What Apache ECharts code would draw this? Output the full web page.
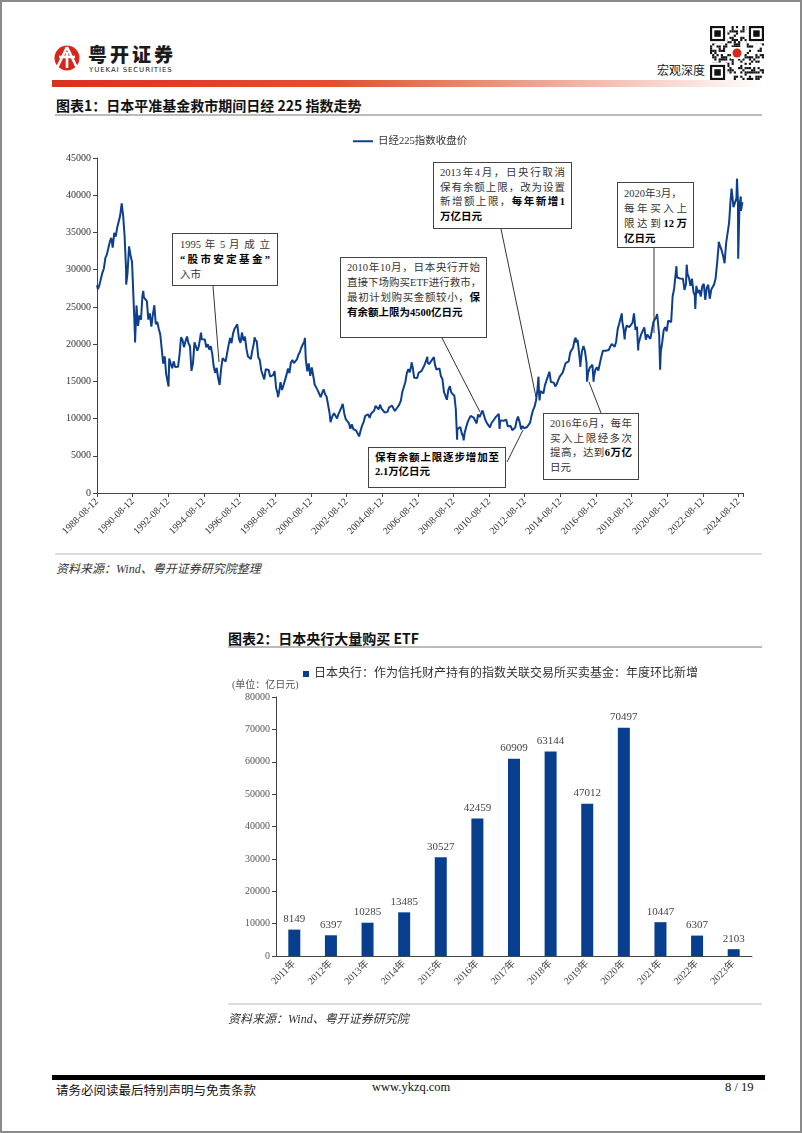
<!DOCTYPE html>
<html>
<head>
<meta charset="utf-8">
<script src="https://cdn.jsdelivr.net/npm/echarts@6/dist/echarts.min.js"></script>
<style>
  html,body{margin:0;padding:0;background:#fff;}
  body{width:802px;height:1133px;position:relative;overflow:hidden;font-family:'Liberation Serif','Noto Sans CJK SC',serif;color:#222;}
  .frame{position:absolute;left:0;top:0;width:798px;height:1129px;border:2px solid #8a8a8a;}
  .abs{position:absolute;white-space:nowrap;}
  .ann{position:absolute;border:1px solid #444;background:#fff;box-sizing:border-box;font-size:10.5px;line-height:15px;color:#333;font-family:'Liberation Serif','Noto Sans CJK SC',serif;}
  .ann div{white-space:nowrap;}
  .ann .j{text-align:justify;text-align-last:justify;}
  .ann b{color:#000;}
  .title{position:absolute;font-family:'Noto Sans CJK SC',sans-serif;font-weight:bold;font-size:14px;color:#111;white-space:nowrap;}
  .src{position:absolute;font-style:italic;font-size:12px;color:#333;white-space:nowrap;font-family:'Liberation Serif','Noto Sans CJK SC',serif;}
</style>
</head>
<body>
<div class="frame"></div>

<!-- header -->
<svg class="abs" style="left:52px;top:44px" width="34" height="28" viewBox="0 0 34 28">
  <circle cx="15" cy="14" r="12.5" fill="#d7261b"/>
  <path d="M15 3 L5 24 M15 3 L25 24 M7 13 L23 13 M15 8 L15 24" stroke="#fff" stroke-width="2.6" fill="none"/>
</svg>
<div class="abs" style="left:88px;top:43px;font-family:'Noto Sans CJK SC';font-weight:900;font-size:19px;letter-spacing:3px;color:#1a1a1a;line-height:22px">粤开证券</div>
<div class="abs" style="left:89px;top:66px;font-family:'DejaVu Sans';font-size:7px;letter-spacing:0.9px;color:#222;line-height:8px">YUEKAI SECURITIES</div>
<div class="abs" style="left:52px;top:80px;width:712px;height:7px;background:linear-gradient(to right,#d9321c 0%,#e4502e 40%,#f2b7a8 75%,#ffffff 100%)"></div>
<div class="abs" style="left:657px;top:62px;font-family:'Noto Sans CJK SC';font-size:12px;color:#222;line-height:16px">宏观深度</div>
<canvas id="qr" class="abs" style="left:710px;top:26px" width="54" height="54"></canvas>

<!-- chart 1 -->
<div class="title" style="left:56px;top:95px">图表1：日本平准基金救市期间日经 225 指数走势</div>
<div class="abs" style="left:55px;top:114px;width:707px;height:2px;background:#bbb"></div>
<div id="c1" class="abs" style="left:0;top:125px;width:802px;height:430px"></div>
<div class="abs" style="left:55px;top:553px;width:707px;height:2px;background:#ddd"></div>
<div class="src" style="left:56px;top:559px">资料来源：Wind、粤开证券研究院整理</div>

<!-- annotations -->
<div class="ann" style="left:172px;top:233px;width:106px;height:53px;padding:3px 7px">
  <div class="j">1995 年 5 月 成 立</div>
  <div class="j"><b>“股市安定基金”</b></div>
  <div>入市</div>
</div>
<div class="ann" style="left:340px;top:257px;width:147px;height:81px;padding:2px 6px">
  <div class="j">2010年10月，日本央行开始</div>
  <div class="j">直接下场购买ETF进行救市，</div>
  <div class="j">最初计划购买金额较小，<b>保</b></div>
  <div><b>有余额上限为4500亿日元</b></div>
</div>
<div class="ann" style="left:433px;top:162px;width:139px;height:67px;padding:3px 6px;line-height:14.5px">
  <div class="j">2013年4月，日央行取消</div>
  <div class="j">保有余额上限，改为设置</div>
  <div class="j">新增额上限，<b>每年新增1</b></div>
  <div><b>万亿日元</b></div>
</div>
<div class="ann" style="left:617px;top:182px;width:77px;height:66px;padding:3px 6px">
  <div>2020年3月，</div>
  <div class="j">每年买入上</div>
  <div class="j">限达到<b>12万</b></div>
  <div><b>亿日元</b></div>
</div>
<div class="ann" style="left:543px;top:413px;width:96px;height:67px;padding:3px 6px;line-height:14.5px">
  <div class="j">2016年6月，每年</div>
  <div class="j">买入上限经多次</div>
  <div class="j">提高，达到<b>6万亿</b></div>
  <div>日元</div>
</div>
<div class="ann" style="left:368px;top:447px;width:138px;height:41px;padding:3px 6px;line-height:14px">
  <div class="j"><b>保有余额上限逐步增加至</b></div>
  <div><b>2.1万亿日元</b></div>
</div>
<svg class="abs" style="left:0;top:0;pointer-events:none" width="802" height="600">
  <g stroke="#333" stroke-width="1">
    <line x1="213" y1="286" x2="219" y2="362"/>
    <line x1="442" y1="338" x2="480" y2="412"/>
    <line x1="501" y1="229" x2="536" y2="397"/>
    <line x1="654" y1="248" x2="654" y2="333"/>
    <line x1="601" y1="413" x2="589" y2="382"/>
    <line x1="507" y1="462" x2="523" y2="430"/>
  </g>
</svg>

<!-- chart 2 -->
<div class="title" style="left:228px;top:628px">图表2：日本央行大量购买 ETF</div>
<div class="abs" style="left:228px;top:646px;width:534px;height:2px;background:#bbb"></div>
<div id="c2" class="abs" style="left:0;top:650px;width:802px;height:355px"></div>
<div class="abs" style="left:232px;top:676px;font-size:10px;color:#555;font-family:'Liberation Serif','Noto Sans CJK SC'">(单位：亿日元)</div>
<div class="abs" style="left:228px;top:1003px;width:534px;height:2px;background:#ddd"></div>
<div class="src" style="left:228px;top:1009px">资料来源：Wind、粤开证券研究院</div>

<!-- footer -->
<div class="abs" style="left:52px;top:1075px;width:713px;height:5px;background:#000"></div>
<div class="abs" style="left:56px;top:1080px;font-size:12.5px;color:#111;font-family:'Liberation Serif','Noto Sans CJK SC'">请务必阅读最后特别声明与免责条款</div>
<div class="abs" style="left:372px;top:1080px;font-size:12.5px;color:#111;font-family:'Liberation Serif'">www.ykzq.com</div>
<div class="abs" style="left:725px;top:1080px;font-size:12.5px;color:#111;font-family:'Liberation Serif'">8 / 19</div>

<script>
// ===== Chart 1 data: Nikkei 225 (monthly closes, from 1988-08) =====
var nikkeiStart = [1988, 8];
var nikkeiMonthly = [
  27366, 27924, 27880, 29579, 30159,
  31581, 31985, 32839, 33713, 34266, 32948, 34954, 34431, 35636, 35549, 37269, 38916,
  37189, 34591, 29980, 29584, 33131, 31940, 31036, 25978, 20984, 25194, 22455, 23849,
  23293, 26409, 26292, 26111, 25790, 23291, 24121, 22336, 23916, 25222, 22687, 22984,
  22023, 21339, 19346, 17390, 18348, 15952, 15910, 18061, 17399, 16767, 17684, 16925,
  17024, 16953, 18591, 20919, 20552, 19590, 20380, 21027, 20106, 19703, 16408, 17417,
  20229, 19997, 19112, 19725, 20974, 20644, 20448, 20629, 19564, 19990, 19263, 19723,
  18650, 17053, 16140, 16807, 15437, 14518, 16678, 18117, 17913, 17655, 18744, 19868,
  20813, 20125, 21407, 22041, 21956, 22531, 20693, 20167, 21556, 20467, 21020, 19361,
  18330, 18557, 18003, 19151, 20069, 20605, 20331, 18229, 17888, 16459, 16636, 15259,
  16628, 16831, 16527, 15641, 15671, 15830, 16379, 14108, 13406, 13565, 14884, 13842,
  14499, 14368, 15837, 16702, 16112, 17530, 17862, 17437, 17605, 17942, 18558, 18934,
  19540, 19960, 20337, 17974, 16332, 17411, 15727, 16861, 15747, 14540, 14649, 13786,
  13844, 12884, 12999, 13934, 13262, 12969, 11861, 10714, 9775, 10366, 10697, 10543,
  9998, 10588, 11025, 11493, 11764, 10622, 9877, 9619, 9383, 8640, 9216, 8579,
  8340, 8363, 7973, 7831, 8425, 9083, 9563, 10344, 10219, 10560, 10101, 10677,
  10784, 11042, 11715, 11762, 11236, 11859, 11326, 11082, 10824, 10771, 10899, 11489,
  11388, 11741, 11669, 11009, 11277, 11584, 11900, 12414, 13574, 13607, 14872, 16111,
  16650, 16205, 17060, 16906, 15467, 15505, 15457, 16141, 16128, 16399, 16274, 17226,
  17383, 17604, 17288, 17400, 17876, 18138, 17249, 16569, 16786, 16738, 15681, 15308,
  13592, 13604, 12526, 13850, 14339, 13481, 13377, 13073, 11260, 8577, 8512, 8860,
  7994, 7568, 8110, 8828, 9523, 9958, 10357, 10493, 10133, 10035, 9346, 10546,
  10198, 10126, 11090, 11057, 9769, 9383, 9537, 8824, 9369, 9202, 9937, 10229,
  10237, 10624, 9755, 9850, 9694, 9816, 9833, 8955, 8700, 8988, 8435, 8455,
  8803, 9723, 10084, 9521, 8543, 9007, 8695, 8840, 8870, 8928, 9446, 10395,
  11139, 11559, 12398, 13861, 13775, 13677, 13668, 13389, 14456, 14328, 15662, 16291,
  14915, 14841, 14828, 14304, 14632, 15162, 15621, 15425, 16174, 16414, 17460, 17451,
  17674, 18798, 19207, 19520, 20563, 20236, 20585, 18890, 17388, 19083, 19747, 19034,
  17518, 16027, 16759, 16666, 17235, 15576, 16569, 16887, 16450, 17425, 18308, 19114,
  19041, 19119, 18909, 19197, 19651, 20033, 19925, 19646, 20356, 22012, 22725, 22765,
  23098, 22068, 21454, 22468, 22202, 22305, 22554, 22865, 24120, 21920, 22351, 20015,
  20773, 21385, 21206, 22259, 20601, 21276, 21522, 20704, 21756, 22927, 23294, 23657,
  23205, 21143, 18917, 20194, 21878, 22288, 21710, 23140, 23185, 22977, 26434, 27444,
  27663, 28966, 29179, 28813, 28860, 28792, 27284, 28090, 29453, 28893, 27822, 28792,
  27002, 26527, 27821, 26848, 27280, 26393, 27802, 28092, 25937, 27587, 27969, 26095,
  27327, 27446, 28041, 28856, 30888, 33189, 33172, 32619, 31858, 30859, 33487, 33464,
  36287, 39166, 40369, 38406, 38488, 39583, 39102, 38648, 37920, 39081
];
// intra-month highs / lows
var nikkeiExtraDates = [
  '1988-08-12','1990-04-02','1990-10-01','1991-03-18','1992-08-18','1993-09-03','1994-06-13',
  '1995-07-03','1996-06-26','1997-06-16','1998-10-09','2000-04-12','2001-09-20','2002-05-27',
  '2003-04-28','2006-04-07','2007-02-26','2007-07-09','2008-10-27','2009-03-10','2010-04-05',
  '2011-03-15','2012-03-27','2012-06-04','2013-05-22','2013-06-13','2015-06-24','2015-09-29',
  '2016-02-12','2016-06-24','2018-01-23','2018-03-23','2018-10-02','2018-12-25','2020-01-17',
  '2020-03-19','2021-02-16','2021-09-14','2022-03-09','2023-07-03','2024-03-22','2024-07-11',
  '2024-08-05','2024-09-27'
];
var nikkeiExtraValues = [
  27900, 28002, 20222, 27146, 14309, 21148, 21552,
  14485, 22666, 20910, 12879, 20833, 9504, 11979,
  7607, 17563, 18300, 18261, 7162, 7054, 11339,
  8605, 10255, 8295, 15627, 12445, 20868, 16930,
  14952, 14952, 24124, 20617, 24270, 19155, 24041,
  16552, 30467, 30670, 24717, 33753, 40888, 42224,
  31458, 39830
];
var xTickLabels = ['1988-08-12','1990-08-12','1992-08-12','1994-08-12','1996-08-12','1998-08-12',
  '2000-08-12','2002-08-12','2004-08-12','2006-08-12','2008-08-12','2010-08-12','2012-08-12',
  '2014-08-12','2016-08-12','2018-08-12','2020-08-12','2022-08-12','2024-08-12'];
var yTicks1 = [0, 5000, 10000, 15000, 20000, 25000, 30000, 35000, 40000, 45000];
var legend1 = '日经225指数收盘价';

// ===== Chart 2 data =====
var etfYears = ['2011年','2012年','2013年','2014年','2015年','2016年','2017年','2018年','2019年','2020年','2021年','2022年','2023年'];
var etfValues = [8149, 6397, 10285, 13485, 30527, 42459, 60909, 63144, 47012, 70497, 10447, 6307, 2103];
var legend2 = '日本央行：作为信托财产持有的指数关联交易所买卖基金：年度环比新增';

// ---- build ----
var T0 = Date.UTC(1988, 7, 12);
var YEAR = 365.25 * 86400000;
function off(ms){ return (ms - T0) / YEAR; }
var pts = [];
for (var i = 0; i < nikkeiMonthly.length; i++) {
  var m = nikkeiStart[1] - 1 + i;
  var y = nikkeiStart[0] + Math.floor(m / 12);
  var mm = m % 12;
  pts.push([off(Date.UTC(y, mm + 1, 0)), nikkeiMonthly[i]]);
}
for (var k = 0; k < nikkeiExtraDates.length; k++) {
  var p = nikkeiExtraDates[k].split('-');
  pts.push([off(Date.UTC(+p[0], +p[1] - 1, +p[2])), nikkeiExtraValues[k]]);
}
pts.sort(function(a, b){ return a[0] - b[0]; });

var SERIF = "'Liberation Serif', 'Noto Sans CJK SC', serif";
var LINE_BLUE = '#0d3f8e';
function plain(v){ return String(v); }

var c1 = echarts.init(document.getElementById('c1'));
c1.setOption({
  animation: false,
  legend: {
    data: [legend1], left: 348, top: 6, itemWidth: 20, itemHeight: 8,
    icon: 'path://M0,3 L20,3 L20,5 L0,5 Z',
    textStyle: { fontSize: 10.5, color: '#333', fontFamily: SERIF }
  },
  grid: { left: 97, top: 33, width: 646, height: 335 },
  xAxis: {
    type: 'value', min: 0, max: 36.25, interval: 2,
    axisLine: { lineStyle: { color: '#444', width: 1 } },
    axisTick: { length: 4, lineStyle: { color: '#444' } },
    splitLine: { show: false },
    axisLabel: {
      rotate: 45, fontSize: 10, color: '#333', fontFamily: SERIF, margin: 7,
      formatter: function(v){ var r = v / 2; return Math.abs(r - Math.round(r)) < 1e-6 ? (xTickLabels[Math.round(r)] || '') : ''; }
    }
  },
  yAxis: {
    type: 'value', min: yTicks1[0], max: yTicks1[yTicks1.length - 1], interval: 5000,
    axisLine: { show: true, lineStyle: { color: '#444', width: 1 } },
    axisTick: { show: true, length: 4, lineStyle: { color: '#444' } },
    splitLine: { show: false },
    axisLabel: { fontSize: 10, color: '#333', fontFamily: SERIF, margin: 6, formatter: plain }
  },
  series: [{
    name: legend1, type: 'line', data: pts, showSymbol: false, symbol: 'none',
    lineStyle: { color: LINE_BLUE, width: 2 }, itemStyle: { color: LINE_BLUE }
  }]
});

var c2 = echarts.init(document.getElementById('c2'));
c2.setOption({
  animation: false,
  legend: {
    data: [legend2], left: 298, top: 13, itemWidth: 6, itemHeight: 6, itemGap: 4,
    icon: 'rect',
    textStyle: { fontSize: 12, color: '#333', fontFamily: SERIF }
  },
  grid: { left: 276, top: 47, width: 476, height: 259 },
  xAxis: {
    type: 'category', data: etfYears,
    axisLine: { lineStyle: { color: '#444' } },
    axisTick: { alignWithLabel: false, length: 4, lineStyle: { color: '#444' } },
    axisLabel: { rotate: 45, interval: 0, fontSize: 10, color: '#444', fontFamily: SERIF, margin: 6 }
  },
  yAxis: {
    type: 'value', min: 0, max: 80000, interval: 10000,
    axisLine: { show: true, lineStyle: { color: '#444' } },
    axisTick: { show: true, length: 4, lineStyle: { color: '#444' } },
    splitLine: { show: false },
    axisLabel: { fontSize: 10, color: '#555', fontFamily: SERIF, margin: 6, formatter: plain }
  },
  series: [{
    name: legend2, type: 'bar', data: etfValues, barWidth: 12,
    itemStyle: { color: '#073e8e' },
    label: { show: true, position: 'top', fontSize: 11, color: '#444', fontFamily: SERIF, distance: 5 }
  }]
});

// decorative QR-like badge
(function(){
  var cv = document.getElementById('qr'), g = cv.getContext('2d');
  var n = 25, s = 54 / n;
  g.fillStyle = '#fff'; g.fillRect(0, 0, 54, 54);
  g.fillStyle = '#111';
  for (var r = 0; r < n; r++) for (var c = 0; c < n; c++) {
    if (((r * 7 + c * 13) ^ (r * c + 3)) % 3 === 0) g.fillRect(c * s, r * s, s, s);
  }
  function finder(x, y){
    g.fillStyle = '#fff'; g.fillRect(x * s - s, y * s - s, 9 * s, 9 * s);
    g.fillStyle = '#111'; g.fillRect(x * s, y * s, 7 * s, 7 * s);
    g.fillStyle = '#fff'; g.fillRect((x + 1) * s, (y + 1) * s, 5 * s, 5 * s);
    g.fillStyle = '#111'; g.fillRect((x + 2) * s, (y + 2) * s, 3 * s, 3 * s);
  }
  finder(0, 0); finder(n - 7, 0); finder(0, n - 7);
  g.fillStyle = '#fff'; g.fillRect(21, 21, 12, 12);
  g.fillStyle = '#d7261b'; g.beginPath(); g.arc(27, 27, 4.5, 0, Math.PI * 2); g.fill();
})();
</script>
</body>
</html>
